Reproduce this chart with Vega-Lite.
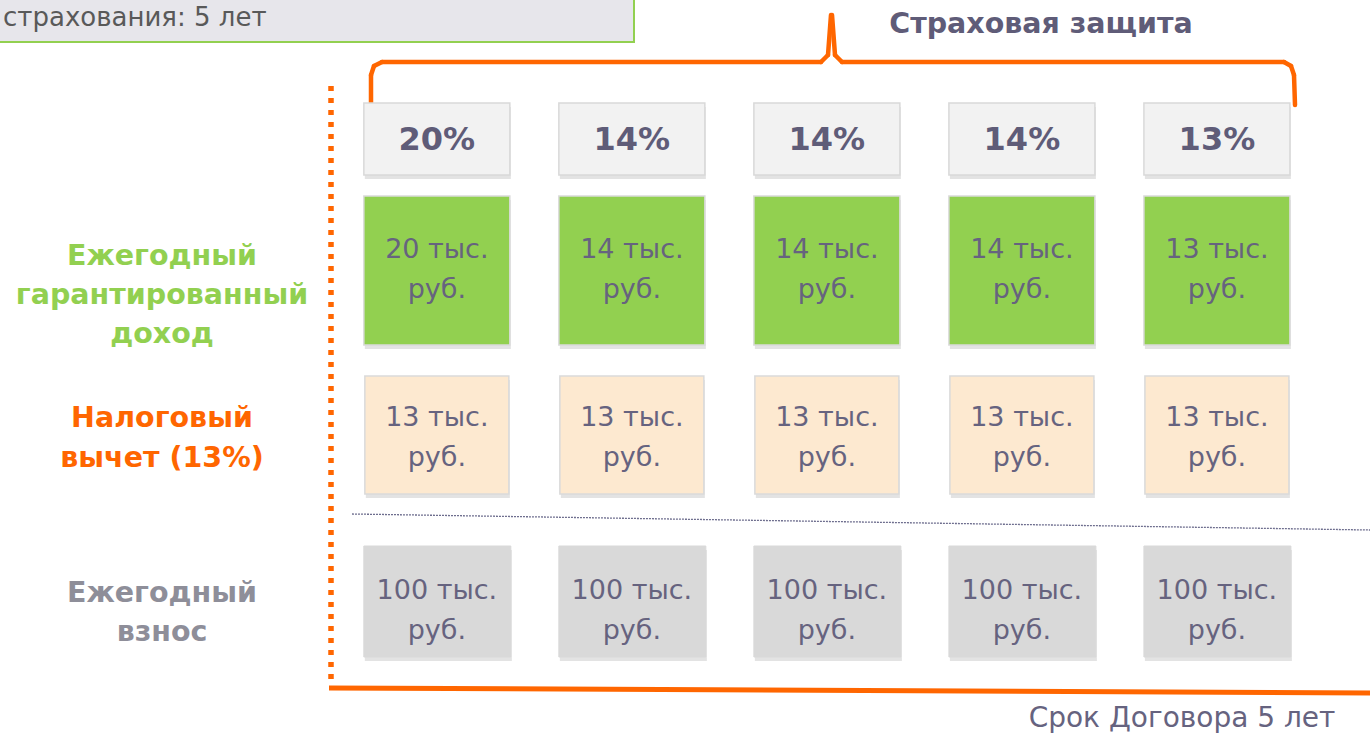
{
  "$schema": "https://vega.github.io/schema/vega-lite/v6.json",
  "width": 1370,
  "height": 735,
  "autosize": {"type": "none"},
  "padding": 0,
  "background": "#ffffff",
  "config": {
    "view": {"stroke": null},
    "axis": {"disable": true},
    "text": {"font": "DejaVu Sans"}
  },
  "datasets": {
    "cells": [
      {"year": 1, "row": "Страховая защита", "value": 20, "label": "20%"},
      {"year": 2, "row": "Страховая защита", "value": 14, "label": "14%"},
      {"year": 3, "row": "Страховая защита", "value": 14, "label": "14%"},
      {"year": 4, "row": "Страховая защита", "value": 14, "label": "14%"},
      {"year": 5, "row": "Страховая защита", "value": 13, "label": "13%"},
      {"year": 1, "row": "Ежегодный гарантированный доход", "value": 20, "label": "20 тыс.\nруб."},
      {"year": 2, "row": "Ежегодный гарантированный доход", "value": 14, "label": "14 тыс.\nруб."},
      {"year": 3, "row": "Ежегодный гарантированный доход", "value": 14, "label": "14 тыс.\nруб."},
      {"year": 4, "row": "Ежегодный гарантированный доход", "value": 14, "label": "14 тыс.\nруб."},
      {"year": 5, "row": "Ежегодный гарантированный доход", "value": 13, "label": "13 тыс.\nруб."},
      {"year": 1, "row": "Налоговый вычет (13%)", "value": 13, "label": "13 тыс.\nруб."},
      {"year": 2, "row": "Налоговый вычет (13%)", "value": 13, "label": "13 тыс.\nруб."},
      {"year": 3, "row": "Налоговый вычет (13%)", "value": 13, "label": "13 тыс.\nруб."},
      {"year": 4, "row": "Налоговый вычет (13%)", "value": 13, "label": "13 тыс.\nруб."},
      {"year": 5, "row": "Налоговый вычет (13%)", "value": 13, "label": "13 тыс.\nруб."},
      {"year": 1, "row": "Ежегодный взнос", "value": 100, "label": "100 тыс.\nруб."},
      {"year": 2, "row": "Ежегодный взнос", "value": 100, "label": "100 тыс.\nруб."},
      {"year": 3, "row": "Ежегодный взнос", "value": 100, "label": "100 тыс.\nруб."},
      {"year": 4, "row": "Ежегодный взнос", "value": 100, "label": "100 тыс.\nруб."},
      {"year": 5, "row": "Ежегодный взнос", "value": 100, "label": "100 тыс.\nруб."}
    ],
    "rows": [
      {"row": "Ежегодный гарантированный доход", "label": "Ежегодный\nгарантированный\nдоход"},
      {"row": "Налоговый вычет (13%)", "label": "Налоговый\nвычет (13%)"},
      {"row": "Ежегодный взнос", "label": "Ежегодный\nвзнос"}
    ]
  },
  "resolve": {"scale": {"x": "independent"}},
  "layer": [
    {
      "data": {"values": [{}]},
      "layer": [
        {
          "mark": {"type": "rect", "fill": "#E7E6EB", "stroke": "#92D050", "strokeWidth": 2, "xOffset": -10, "yOffset": -10},
          "encoding": {
            "x": {"datum": 0, "type": "quantitative", "scale": {"domain": [0, 1370], "nice": false, "zero": false}},
            "x2": {"datum": 634},
            "y": {"datum": 0, "type": "quantitative", "scale": {"domain": [0, 735], "nice": false, "zero": false, "reverse": true}},
            "y2": {"datum": 42}
          }
        },
        {
          "mark": {"type": "text", "align": "left", "baseline": "alphabetic", "fontSize": 26, "color": "#595959"},
          "encoding": {"x": {"datum": 3}, "y": {"datum": 26}, "text": {"value": "страхования: 5 лет"}}
        },
        {
          "mark": {"type": "text", "align": "center", "baseline": "middle", "fontSize": 28.5, "fontWeight": "bold", "color": "#5F5C78"},
          "encoding": {"x": {"datum": 1041}, "y": {"datum": 24}, "text": {"value": "Страховая защита"}}
        },
        {
          "mark": {"type": "text", "align": "center", "baseline": "middle", "fontSize": 28, "color": "#66637F"},
          "encoding": {"x": {"datum": 1182}, "y": {"datum": 719}, "text": {"value": "Срок Договора 5 лет"}}
        },
        {"mark": {"type": "rule", "color": "#FF6600", "strokeWidth": 4.5, "strokeCap": "round"},
         "encoding": {"x": {"datum": 371}, "x2": {"datum": 371}, "y": {"datum": 104}, "y2": {"datum": 75}}},
        {"mark": {"type": "rule", "color": "#FF6600", "strokeWidth": 4.5, "strokeCap": "round"},
         "encoding": {"x": {"datum": 371}, "x2": {"datum": 374}, "y": {"datum": 75}, "y2": {"datum": 66}}},
        {"mark": {"type": "rule", "color": "#FF6600", "strokeWidth": 4.5, "strokeCap": "round"},
         "encoding": {"x": {"datum": 374}, "x2": {"datum": 382}, "y": {"datum": 66}, "y2": {"datum": 62}}},
        {"mark": {"type": "rule", "color": "#FF6600", "strokeWidth": 4.5, "strokeCap": "round"},
         "encoding": {"x": {"datum": 382}, "x2": {"datum": 821}, "y": {"datum": 62}, "y2": {"datum": 62}}},
        {"mark": {"type": "rule", "color": "#FF6600", "strokeWidth": 4.5, "strokeCap": "round"},
         "encoding": {"x": {"datum": 821}, "x2": {"datum": 828}, "y": {"datum": 62}, "y2": {"datum": 55}}},
        {"mark": {"type": "rule", "color": "#FF6600", "strokeWidth": 4.5, "strokeCap": "round"},
         "encoding": {"x": {"datum": 828}, "x2": {"datum": 831}, "y": {"datum": 55}, "y2": {"datum": 15}}},
        {"mark": {"type": "rule", "color": "#FF6600", "strokeWidth": 4.5, "strokeCap": "round"},
         "encoding": {"x": {"datum": 832}, "x2": {"datum": 835}, "y": {"datum": 15}, "y2": {"datum": 55}}},
        {"mark": {"type": "rule", "color": "#FF6600", "strokeWidth": 4.5, "strokeCap": "round"},
         "encoding": {"x": {"datum": 835}, "x2": {"datum": 842}, "y": {"datum": 55}, "y2": {"datum": 62}}},
        {"mark": {"type": "rule", "color": "#FF6600", "strokeWidth": 4.5, "strokeCap": "round"},
         "encoding": {"x": {"datum": 842}, "x2": {"datum": 1284}, "y": {"datum": 62}, "y2": {"datum": 62}}},
        {"mark": {"type": "rule", "color": "#FF6600", "strokeWidth": 4.5, "strokeCap": "round"},
         "encoding": {"x": {"datum": 1284}, "x2": {"datum": 1291}, "y": {"datum": 62}, "y2": {"datum": 66}}},
        {"mark": {"type": "rule", "color": "#FF6600", "strokeWidth": 4.5, "strokeCap": "round"},
         "encoding": {"x": {"datum": 1291}, "x2": {"datum": 1294}, "y": {"datum": 66}, "y2": {"datum": 75}}},
        {"mark": {"type": "rule", "color": "#FF6600", "strokeWidth": 4.5, "strokeCap": "round"},
         "encoding": {"x": {"datum": 1294}, "x2": {"datum": 1295}, "y": {"datum": 75}, "y2": {"datum": 105}}},
        {"mark": {"type": "rule", "color": "#FF6600", "strokeWidth": 5.5, "strokeDash": [5, 7]},
         "encoding": {"x": {"datum": 331}, "x2": {"datum": 331}, "y": {"datum": 86}, "y2": {"datum": 686}}},
        {"mark": {"type": "rule", "color": "#FF6600", "strokeWidth": 5},
         "encoding": {"x": {"datum": 329}, "x2": {"datum": 1370}, "y": {"datum": 688}, "y2": {"datum": 693}}},
        {"mark": {"type": "rule", "color": "#6E6E8E", "strokeWidth": 1.3, "strokeDash": [2, 1]},
         "encoding": {"x": {"datum": 352}, "x2": {"datum": 1370}, "y": {"datum": 514}, "y2": {"datum": 530}}},
        {
          "data": {"name": "rows"},
          "transform": [{"filter": {"field": "row", "equal": "Ежегодный гарантированный доход"}}],
          "mark": {"type": "text", "align": "center", "baseline": "middle", "fontSize": 28.5, "fontWeight": "bold", "color": "#92D050", "lineBreak": "\n", "lineHeight": 39},
          "encoding": {"x": {"datum": 162}, "y": {"datum": 256}, "text": {"field": "label"}}
        },
        {
          "data": {"name": "rows"},
          "transform": [{"filter": {"field": "row", "equal": "Налоговый вычет (13%)"}}],
          "mark": {"type": "text", "align": "center", "baseline": "middle", "fontSize": 28.5, "fontWeight": "bold", "color": "#FF6600", "lineBreak": "\n", "lineHeight": 40},
          "encoding": {"x": {"datum": 162}, "y": {"datum": 418}, "text": {"field": "label"}}
        },
        {
          "data": {"name": "rows"},
          "transform": [{"filter": {"field": "row", "equal": "Ежегодный взнос"}}],
          "mark": {"type": "text", "align": "center", "baseline": "middle", "fontSize": 28.5, "fontWeight": "bold", "color": "#8E8E99", "lineBreak": "\n", "lineHeight": 39},
          "encoding": {"x": {"datum": 162}, "y": {"datum": 593}, "text": {"field": "label"}}
        }
      ]
    },
    {
      "data": {"name": "cells"},
      "layer": [
        {
          "transform": [{"filter": {"field": "row", "equal": "Страховая защита"}}],
          "mark": {"type": "rect", "color": "#7F7F7F", "opacity": 0.22, "xOffset": -72, "x2Offset": 74, "yOffset": 4, "y2Offset": 4},
          "encoding": {
            "x": {"field": "year", "type": "quantitative", "scale": {"domain": [-1.24, 5.785], "nice": false, "zero": false}},
            "x2": {"field": "year"},
            "y": {"datum": 103}, "y2": {"datum": 175}
          }
        },
        {
          "transform": [{"filter": {"field": "row", "equal": "Страховая защита"}}],
          "mark": {"type": "rect", "fill": "#F2F2F2", "stroke": "#D9D9D9", "strokeWidth": 1.5, "xOffset": -73, "x2Offset": 73},
          "encoding": {"x": {"field": "year", "type": "quantitative"}, "x2": {"field": "year"}, "y": {"datum": 103}, "y2": {"datum": 175}}
        },
        {
          "transform": [{"filter": {"field": "row", "equal": "Страховая защита"}}],
          "mark": {"type": "text", "align": "center", "baseline": "middle", "fontSize": 32, "fontWeight": "bold", "color": "#5F5C78"},
          "encoding": {"x": {"field": "year", "type": "quantitative"}, "y": {"datum": 140}, "text": {"field": "label"}}
        },
        {
          "transform": [{"filter": {"field": "row", "equal": "Ежегодный гарантированный доход"}}],
          "mark": {"type": "rect", "color": "#7F7F7F", "opacity": 0.22, "xOffset": -72, "x2Offset": 74, "yOffset": 4, "y2Offset": 4},
          "encoding": {"x": {"field": "year", "type": "quantitative"}, "x2": {"field": "year"}, "y": {"datum": 196}, "y2": {"datum": 345}}
        },
        {
          "transform": [{"filter": {"field": "row", "equal": "Ежегодный гарантированный доход"}}],
          "mark": {"type": "rect", "fill": "#92D050", "stroke": "#DADADA", "strokeWidth": 1.5, "xOffset": -73, "x2Offset": 73},
          "encoding": {"x": {"field": "year", "type": "quantitative"}, "x2": {"field": "year"}, "y": {"datum": 196}, "y2": {"datum": 345}}
        },
        {
          "transform": [{"filter": {"field": "row", "equal": "Ежегодный гарантированный доход"}}],
          "mark": {"type": "text", "align": "center", "baseline": "middle", "fontSize": 27, "color": "#66637F", "lineBreak": "\n", "lineHeight": 40},
          "encoding": {"x": {"field": "year", "type": "quantitative"}, "y": {"datum": 250}, "text": {"field": "label"}}
        },
        {
          "transform": [{"filter": {"field": "row", "equal": "Налоговый вычет (13%)"}}],
          "mark": {"type": "rect", "color": "#7F7F7F", "opacity": 0.22, "xOffset": -71, "x2Offset": 73, "yOffset": 4, "y2Offset": 4},
          "encoding": {"x": {"field": "year", "type": "quantitative"}, "x2": {"field": "year"}, "y": {"datum": 376}, "y2": {"datum": 494}}
        },
        {
          "transform": [{"filter": {"field": "row", "equal": "Налоговый вычет (13%)"}}],
          "mark": {"type": "rect", "fill": "#FDE9D0", "stroke": "#DADADA", "strokeWidth": 1.5, "xOffset": -72, "x2Offset": 72},
          "encoding": {"x": {"field": "year", "type": "quantitative"}, "x2": {"field": "year"}, "y": {"datum": 376}, "y2": {"datum": 494}}
        },
        {
          "transform": [{"filter": {"field": "row", "equal": "Налоговый вычет (13%)"}}],
          "mark": {"type": "text", "align": "center", "baseline": "middle", "fontSize": 27, "color": "#66637F", "lineBreak": "\n", "lineHeight": 40},
          "encoding": {"x": {"field": "year", "type": "quantitative"}, "y": {"datum": 418}, "text": {"field": "label"}}
        },
        {
          "transform": [{"filter": {"field": "row", "equal": "Ежегодный взнос"}}],
          "mark": {"type": "rect", "color": "#7F7F7F", "opacity": 0.22, "xOffset": -72, "x2Offset": 75, "yOffset": 4, "y2Offset": 4},
          "encoding": {"x": {"field": "year", "type": "quantitative"}, "x2": {"field": "year"}, "y": {"datum": 546}, "y2": {"datum": 657}}
        },
        {
          "transform": [{"filter": {"field": "row", "equal": "Ежегодный взнос"}}],
          "mark": {"type": "rect", "fill": "#D9D9D9", "stroke": "#D9D9D9", "strokeWidth": 1, "xOffset": -73, "x2Offset": 74},
          "encoding": {"x": {"field": "year", "type": "quantitative"}, "x2": {"field": "year"}, "y": {"datum": 546}, "y2": {"datum": 657}}
        },
        {
          "transform": [{"filter": {"field": "row", "equal": "Ежегодный взнос"}}],
          "mark": {"type": "text", "align": "center", "baseline": "middle", "fontSize": 27, "color": "#66637F", "lineBreak": "\n", "lineHeight": 40},
          "encoding": {"x": {"field": "year", "type": "quantitative"}, "y": {"datum": 591}, "text": {"field": "label"}}
        }
      ]
    }
  ]
}
